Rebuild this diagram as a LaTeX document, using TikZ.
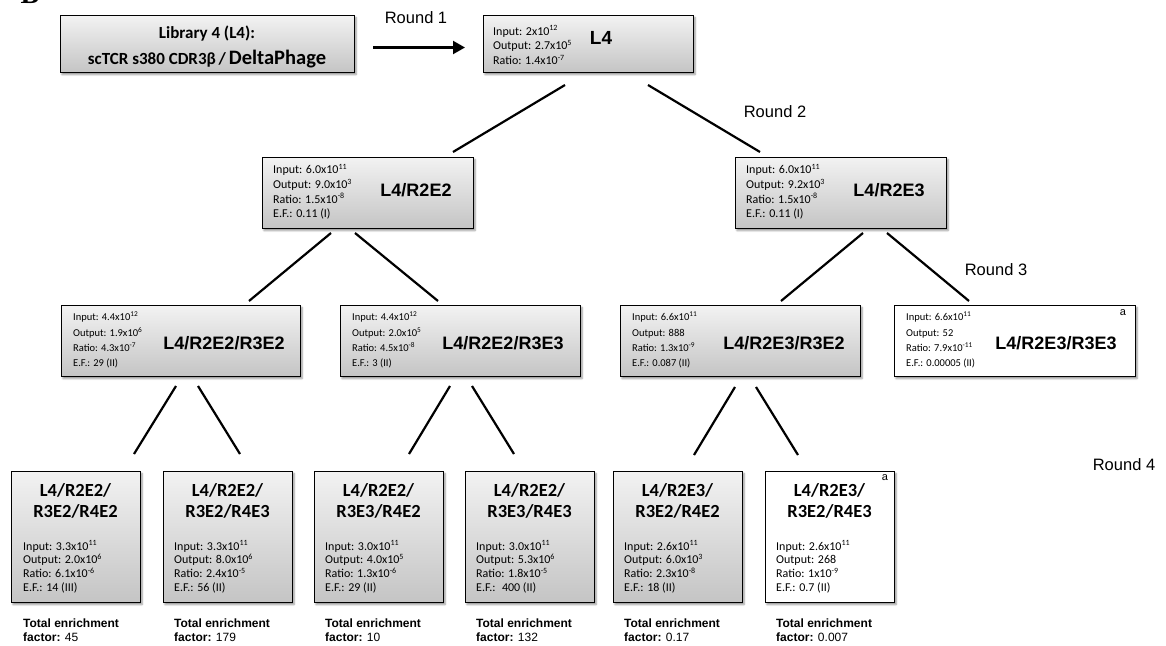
\documentclass[tikz,border=0pt]{standalone}
\usepackage{fontspec}
\setmainfont{Carlito}
\newfontfamily\arialf{Liberation Sans}
\newfontfamily\timesf{Liberation Serif}
\usetikzlibrary{calc,arrows.meta,shadows.blur}
\tikzset{
  boxshadow/.style={blur shadow={shadow xshift=1.5pt, shadow yshift=-2pt, shadow blur steps=4, shadow opacity=45}},
  gbox/.style={draw=black, line width=1pt, top color=white!95!black, bottom color=white!77!black, inner sep=0pt, anchor=north west, boxshadow},
  wbox/.style={draw=black, line width=1pt, fill=white, inner sep=0pt, anchor=north west, boxshadow},
  conn/.style={line width=2.2pt, black},
  infoL/.style={font=\fontsize{12}{14.7}\selectfont, align=left, anchor=west, inner sep=0pt},
  infoM/.style={font=\fontsize{10.5}{15.2}\selectfont, align=left, anchor=west, inner sep=0pt},
  infoS/.style={font=\fontsize{12}{13.9}\selectfont, align=left, anchor=west, inner sep=0pt},
  ttl/.style={font=\arialf\bfseries\fontsize{18}{20}\selectfont, inner sep=0pt},
  ttlB/.style={font=\bfseries\fontsize{18.5}{21.7}\selectfont, align=center, inner sep=0pt},
  roundlbl/.style={font=\arialf\fontsize{16.5}{18}\selectfont, inner sep=0pt},
  totlbl/.style={font=\arialf\fontsize{12}{14}\selectfont, align=left, anchor=west, inner sep=0pt},
  amark/.style={font=\arialf\fontsize{11}{12}\selectfont, inner sep=0pt},
}
\newcommand{\supx}[1]{\textsuperscript{#1}}
\begin{document}
\begin{tikzpicture}[x=1pt,y=-1pt]
\useasboundingbox (0,0) rectangle (1166,645);
\node[font=\timesf\bfseries\fontsize{28}{28}\selectfont, anchor=base, inner sep=0pt] (blab) at (30,3) {B};

% Library box and round 1
\node[gbox, minimum width=294pt, minimum height=57pt] (lib) at (60,15) {};
\node[font=\bfseries\fontsize{17}{26}\selectfont, align=center, inner sep=0pt] (libt) at (207,47) {Library 4 (L4):\\scTCR s380 CDR3β\,/\,{\fontsize{20.5}{26}\selectfont DeltaPhage}};
\node[gbox, minimum width=210pt, minimum height=57pt] (L4) at (483,15) {};
\node[infoL] (L4i) at (493,45) {Input: 2x10\supx{12}\\Output: 2.7x10\supx{5}\\Ratio: 1.4x10\supx{-7}};
\node[ttl, font=\arialf\bfseries\fontsize{19}{20}\selectfont] (L4t) at (601,38) {L4};
\draw[conn, -{Triangle[length=12pt,width=13pt]}] ($(lib.east)+(18,3.5)$) -- ($(L4.west)+(-18,3.5)$);
\node[roundlbl] (rd1) at (416,18) {Round 1};

% Round 2
\node[gbox, minimum width=211pt, minimum height=71pt] (r2a) at (262,157) {};
\node[infoL] (r2ai) at (273,192) {Input: 6.0x10\supx{11}\\Output: 9.0x10\supx{3}\\Ratio: 1.5x10\supx{-8}\\E.F.: 0.11 (I)};
\node[ttl] (r2at) at (416,190) {L4/R2E2};
\node[gbox, minimum width=211pt, minimum height=71pt] (r2b) at (735,157) {};
\node[infoL] (r2bi) at (746,192) {Input: 6.0x10\supx{11}\\Output: 9.2x10\supx{3}\\Ratio: 1.5x10\supx{-8}\\E.F.: 0.11 (I)};
\node[ttl] (r2bt) at (889,190) {L4/R2E3};
\draw[conn] ($(L4.south west)+(82,12)$) -- ($(r2a.north west)+(191,-5)$);
\draw[conn] ($(L4.south west)+(165,12)$) -- ($(r2b.north west)+(25,-5)$);
\node[roundlbl] (rd2) at (775,112) {Round 2};

% Round 3
\node[gbox, minimum width=239pt, minimum height=71pt] (r3a) at (61,305) {};
\node[infoM] (r3ai) at (73,340) {Input: 4.4x10\supx{12}\\Output: 1.9x10\supx{6}\\Ratio: 4.3x10\supx{-7}\\E.F.: 29 (II)};
\node[ttl] (r3at) at (224,343) {L4/R2E2/R3E2};
\node[gbox, minimum width=240pt, minimum height=71pt] (r3b) at (340,305) {};
\node[infoM] (r3bi) at (352,340) {Input: 4.4x10\supx{12}\\Output: 2.0x10\supx{5}\\Ratio: 4.5x10\supx{-8}\\E.F.: 3 (II)};
\node[ttl] (r3bt) at (503,343) {L4/R2E2/R3E3};
\node[gbox, minimum width=240pt, minimum height=71pt] (r3c) at (620,305) {};
\node[infoM] (r3ci) at (632,340) {Input: 6.6x10\supx{11}\\Output: 888\\Ratio: 1.3x10\supx{-9}\\E.F.: 0.087 (II)};
\node[ttl] (r3ct) at (784,343) {L4/R2E3/R3E2};
\node[wbox, minimum width=241pt, minimum height=71pt] (r3d) at (894,305) {};
\node[infoM] (r3di) at (906,340) {Input: 6.6x10\supx{11}\\Output: 52\\Ratio: 7.9x10\supx{-11}\\E.F.: 0.00005 (II)};
\node[ttl] (r3dt) at (1056,343) {L4/R2E3/R3E3};
\node[amark] (r3da) at (1123,313) {a};
\draw[conn] ($(r2a.south west)+(69,4)$) -- ($(r3a.north west)+(188,-4)$);
\draw[conn] ($(r2a.south west)+(93,4)$) -- ($(r3b.north west)+(98,-4)$);
\draw[conn] ($(r2b.south west)+(128,4)$) -- ($(r3c.north west)+(161,-4)$);
\draw[conn] ($(r2b.south west)+(152,4)$) -- ($(r3d.north west)+(75,-4)$);
\node[roundlbl] (rd3) at (996,270) {Round 3};

% Round 4
\node[roundlbl] (rd4) at (1124,465) {Round 4};

\node[gbox, minimum width=129pt, minimum height=131pt] (b1) at (11,471) {};
\node[ttlB] (b1t) at (75.5,501) {L4/R2E2/\\R3E2/R4E2};
\node[infoS] (b1i) at (23,567) {Input: 3.3x10\supx{11}\\Output: 2.0x10\supx{6}\\Ratio: 6.1x10\supx{-6}\\E.F.: 14 (III)};
\node[totlbl] (b1l) at (23,630) {\textbf{Total enrichment}\\\textbf{factor:} 45};

\node[gbox, minimum width=129pt, minimum height=131pt] (b2) at (163,471) {};
\node[ttlB] (b2t) at (227.5,501) {L4/R2E2/\\R3E2/R4E3};
\node[infoS] (b2i) at (174,567) {Input: 3.3x10\supx{11}\\Output: 8.0x10\supx{6}\\Ratio: 2.4x10\supx{-5}\\E.F.: 56 (II)};
\node[totlbl] (b2l) at (174,630) {\textbf{Total enrichment}\\\textbf{factor:} 179};

\node[gbox, minimum width=129pt, minimum height=131pt] (b3) at (314,471) {};
\node[ttlB] (b3t) at (378.5,501) {L4/R2E2/\\R3E3/R4E2};
\node[infoS] (b3i) at (325,567) {Input: 3.0x10\supx{11}\\Output: 4.0x10\supx{5}\\Ratio: 1.3x10\supx{-6}\\E.F.: 29 (II)};
\node[totlbl] (b3l) at (325,630) {\textbf{Total enrichment}\\\textbf{factor:} 10};

\node[gbox, minimum width=129pt, minimum height=131pt] (b4) at (465,471) {};
\node[ttlB] (b4t) at (529.5,501) {L4/R2E2/\\R3E3/R4E3};
\node[infoS] (b4i) at (476,567) {Input: 3.0x10\supx{11}\\Output: 5.3x10\supx{6}\\Ratio: 1.8x10\supx{-5}\\E.F.: \ 400 (II)};
\node[totlbl] (b4l) at (476,630) {\textbf{Total enrichment}\\\textbf{factor:} 132};

\node[gbox, minimum width=129pt, minimum height=131pt] (b5) at (613,471) {};
\node[ttlB] (b5t) at (677.5,501) {L4/R2E3/\\R3E2/R4E2};
\node[infoS] (b5i) at (624,567) {Input: 2.6x10\supx{11}\\Output: 6.0x10\supx{3}\\Ratio: 2.3x10\supx{-8}\\E.F.: 18 (II)};
\node[totlbl] (b5l) at (624,630) {\textbf{Total enrichment}\\\textbf{factor:} 0.17};

\node[wbox, minimum width=129pt, minimum height=131pt] (b6) at (765,471) {};
\node[ttlB] (b6t) at (829.5,501) {L4/R2E3/\\R3E2/R4E3};
\node[infoS] (b6i) at (776,567) {Input: 2.6x10\supx{11}\\Output: 268\\Ratio: 1x10\supx{-9}\\E.F.: 0.7 (II)};
\node[totlbl] (b6l) at (776,630) {\textbf{Total enrichment}\\\textbf{factor:} 0.007};
\node[amark] (b6a) at (885,478) {a};

\draw[conn] ($(r3a.south west)+(115,9)$) -- ($(b1.north west)+(123,-17)$);
\draw[conn] ($(r3a.south west)+(137,9)$) -- ($(b2.north west)+(77,-17)$);
\draw[conn] ($(r3b.south west)+(110,9)$) -- ($(b3.north west)+(95,-17)$);
\draw[conn] ($(r3b.south west)+(132,9)$) -- ($(b4.north west)+(49,-17)$);
\draw[conn] ($(r3c.south west)+(115,10)$) -- ($(b5.north west)+(81,-16)$);
\draw[conn] ($(r3c.south west)+(136,10)$) -- ($(b6.north west)+(33,-16)$);
\end{tikzpicture}
\end{document}
